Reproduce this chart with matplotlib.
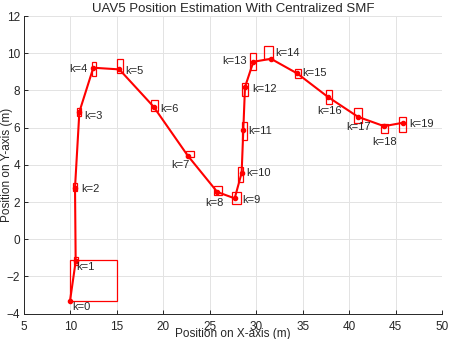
import matplotlib
matplotlib.use("Agg")
import matplotlib.pyplot as plt
from matplotlib.patches import Rectangle

plt.rcParams['font.family'] = ['Liberation Sans', 'DejaVu Sans']

# estimated positions of UAV5 at each step k
steps = list(range(20))
pos_x = [9.95, 10.56, 10.49, 10.96, 12.46, 15.26, 18.96, 22.62, 25.81, 27.68,
         28.43, 28.61, 28.79, 29.69, 31.59, 34.42, 37.69, 40.96, 43.76, 45.77]
pos_y = [-3.32, -1.19, 2.78, 6.85, 9.22, 9.13, 7.12, 4.50, 2.54, 2.20,
         3.57, 5.90, 8.18, 9.54, 9.70, 8.91, 7.66, 6.58, 6.08, 6.26]

# uncertainty boxes (xmin, xmax, ymin, ymax)
box_xmin = [9.95, 10.38, 10.31, 10.71, 12.29, 15.04, 18.67, 22.41, 25.45, 27.36,
            28.01, 28.44, 28.44, 29.33, 30.87, 34.17, 37.48, 40.56, 43.43, 45.37]
box_xmax = [14.98, 10.81, 10.67, 11.14, 12.75, 15.69, 19.46, 23.33, 26.32, 28.33,
            28.61, 28.97, 29.15, 29.98, 31.84, 34.79, 38.12, 41.35, 44.22, 46.09]
box_ymin = [-3.32, -1.40, 2.60, 6.62, 8.77, 8.92, 6.89, 4.41, 2.40, 1.87,
            3.08, 5.33, 7.69, 9.09, 9.67, 8.68, 7.25, 6.26, 5.69, 5.77]
box_ymax = [-1.13, -0.97, 3.03, 7.05, 9.54, 9.67, 7.48, 4.73, 2.87, 2.54,
            3.89, 6.31, 8.41, 9.99, 10.39, 9.15, 8.02, 7.03, 6.17, 6.55]

# label placement: (dx, dy) in pixels, horizontal alignment
label_off = [(2, -6, 'left'), (1, -5.7, 'left'), (6.7, -1.7, 'left'), (5, -4.3, 'left'),
             (-5.6, -1.3, 'right'), (6, -1.7, 'left'), (6.3, -2.6, 'left'), (2.3, -9, 'right'),
             (-2.6, -10.6, 'center'), (8, -1.7, 'left'), (4.3, -0.6, 'left'), (5, -1.7, 'left'),
             (7.3, -2.3, 'left'), (-6.3, 0.4, 'right'), (4, 5.4, 'left'), (5.4, 0, 'left'),
             (2.3, -14, 'center'), (0, -10.6, 'center'), (1, -15.7, 'center'), (6.3, -1.3, 'left')]

fig = plt.figure(figsize=(4.49, 3.39), dpi=100)
ax = fig.add_axes([0.0535, 0.0746, 0.9309, 0.8782])

ax.plot(pos_x, pos_y, '-', color='red', linewidth=1.5)
ax.plot(pos_x, pos_y, '.', color='red', markersize=6)

for i in range(len(steps)):
    r = Rectangle((box_xmin[i], box_ymin[i]), box_xmax[i] - box_xmin[i],
                  box_ymax[i] - box_ymin[i], fill=False, edgecolor='red', linewidth=0.9)
    ax.add_patch(r)
    dx, dy, ha = label_off[i]
    ax.annotate('k=%d' % steps[i], (pos_x[i], pos_y[i]), xytext=(dx, dy),
                textcoords='offset pixels', ha=ha, va='center', fontsize=8, color='#262626')

ax.set_xlim(5, 50)
ax.set_ylim(-4, 12)
ax.set_xticks(range(5, 51, 5))
ax.set_yticks(range(-4, 13, 2))
ax.grid(True, color='#e3e3e3', linewidth=0.7)
ax.set_axisbelow(True)
for s in ['top', 'right']:
    ax.spines[s].set_visible(False)
for s in ['left', 'bottom']:
    ax.spines[s].set_color('#262626')
    ax.spines[s].set_linewidth(0.7)
ax.tick_params(direction='in', length=3, width=0.7, colors='#262626', labelsize=8.5, pad=3)
ax.tick_params(axis='x', pad=5)

ax.set_title('UAV5 Position Estimation With Centralized SMF', fontsize=9.5, color='#262626', pad=3)
ax.set_xlabel('Position on X-axis (m)', fontsize=8.5, color='#262626')
ax.set_ylabel('Position on Y-axis (m)', fontsize=8.5, color='#262626')
ax.xaxis.set_label_coords(0.5, -0.048)
ax.yaxis.set_label_coords(-0.027, 0.5)

fig.savefig('out.png', dpi=100)
